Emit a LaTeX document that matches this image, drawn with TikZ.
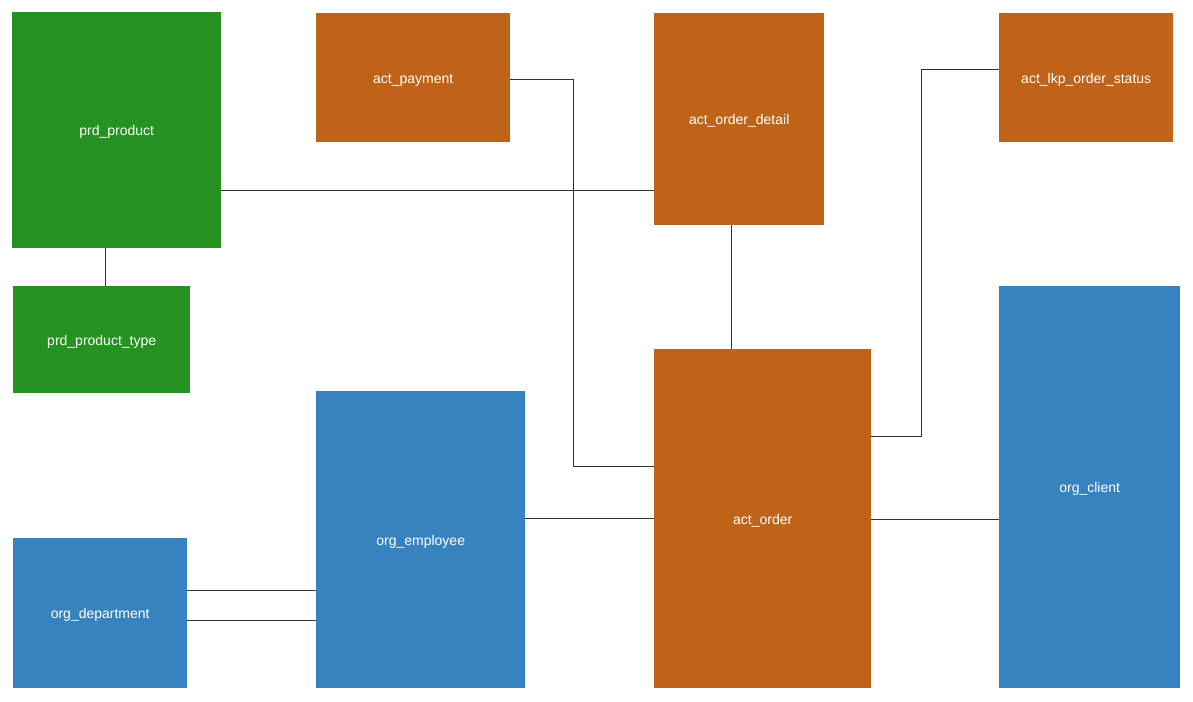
\documentclass[tikz,border=0pt]{standalone}
\usepackage{fontspec}
\setmainfont{Liberation Sans}
\usetikzlibrary{positioning,calc}
\definecolor{prdgreen}{HTML}{259221}
\definecolor{actorange}{HTML}{BF6319}
\definecolor{orgblue}{HTML}{3783BF}
\definecolor{linkgray}{HTML}{333333}

\begin{document}
\begin{tikzpicture}[x=1pt,y=-1pt,
  table/.style={anchor=north west, inner sep=0pt, text=white,
    text height=11pt, text depth=0pt,
    font=\fontsize{14}{16}\selectfont},
  prd/.style={table, fill=prdgreen},
  act/.style={table, fill=actorange},
  org/.style={table, fill=orgblue},
  link/.style={draw=linkgray, line width=1pt}]
\useasboundingbox (0,0) rectangle (1193,701);
% product tables
\node [prd, minimum width=209pt, minimum height=236pt] (product) at (12,12) {prd\_product};
\node [prd, minimum width=177pt, minimum height=107pt] (ptype) at (13,286) {prd\_product\_type};
% activity tables
\node [act, minimum width=194pt, minimum height=129pt] (payment) at (316,13) {act\_payment};
\node [act, minimum width=170pt, minimum height=212pt] (detail) at (654,13) {act\_order\_detail};
\node [act, minimum width=174pt, minimum height=129pt] (status) at (999,13) {act\_lkp\_order\_status};
\node [act, minimum width=217pt, minimum height=339pt] (order) at (654,349) {act\_order};
% organisation tables
\node [org, minimum width=181pt, minimum height=402pt] (client) at (999,286) {org\_client};
\node [org, minimum width=209pt, minimum height=297pt] (employee) at (316,391) {org\_employee};
\node [org, minimum width=174pt, minimum height=150pt] (department) at (13,538) {org\_department};
% links
\draw [link] ([xshift=-11.5pt]product.south) -- ([xshift=-11.5pt]product.south |- ptype.north);
\draw [link] ([yshift=-60pt]product.east) -- ([yshift=-60pt]product.east -| detail.west);
\draw [link] ([yshift=-2pt]payment.east) -- ++(63,0) |- ([yshift=52.5pt]order.west);
\draw [link] ([xshift=-8pt]detail.south) -- ([xshift=-8pt]detail.south |- order.north);
\draw [link] ([yshift=8.5pt]status.west) -- ++(-78,0) |- ([yshift=82.5pt]order.east);
\draw [link] ([yshift=21pt]employee.east) -- ([yshift=21pt]employee.east -| order.west);
\draw [link] ([yshift=-0.5pt]order.east) -- ([yshift=-0.5pt]order.east -| client.west);
\draw [link] ([yshift=23pt]department.east) -- ([yshift=23pt]department.east -| employee.west);
\draw [link] ([yshift=-7pt]department.east) -- ([yshift=-7pt]department.east -| employee.west);
\end{tikzpicture}
\end{document}
